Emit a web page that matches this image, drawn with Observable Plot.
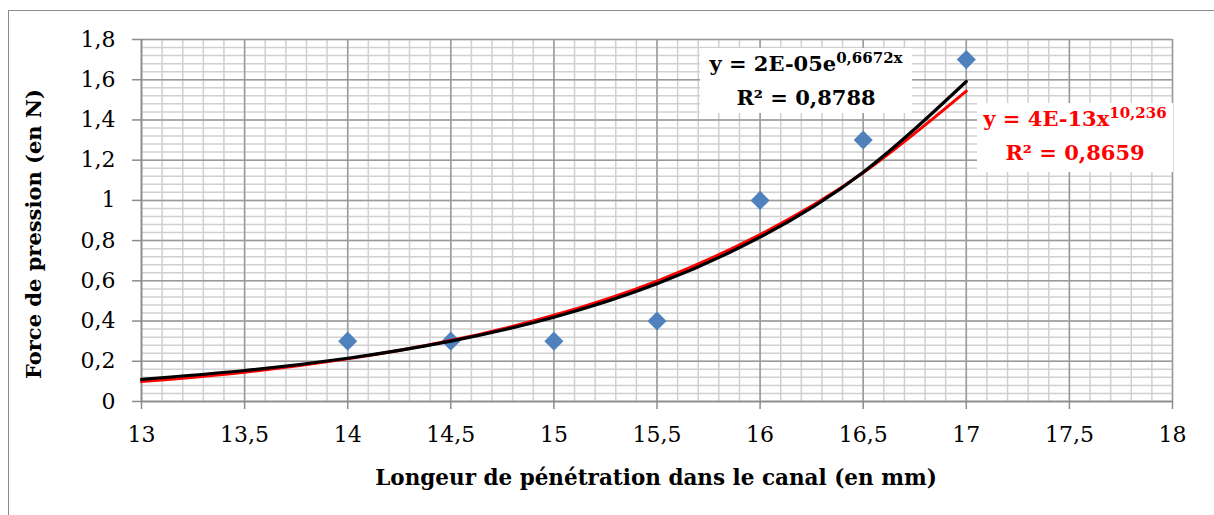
<!DOCTYPE html>
<html>
<head>
<meta charset="utf-8">
<script src="https://cdn.jsdelivr.net/npm/d3@7"></script>
<script src="https://cdn.jsdelivr.net/npm/@observablehq/plot@0.6"></script>
<style>
  html, body { margin: 0; padding: 0; background: #fff; }
  #wrap { position: relative; width: 1214px; height: 515px; overflow: hidden; background: #fff; }
  #frame { position: absolute; left: 8px; top: 10px; width: 1220px; height: 520px; border-left: 1.5px solid #8c8c8c; border-top: 1.5px solid #8c8c8c; box-sizing: border-box; }
  #chart { position: absolute; left: 0; top: 0; }
  .lbl { position: absolute; font-family: "DejaVu Serif", serif; font-weight: bold; white-space: nowrap; color: #000; }
  .eq { position: absolute; background: #fff; font-family: "DejaVu Serif", serif; font-weight: bold; text-align: center; white-space: nowrap; }
  .eq div { line-height: 31px; font-size: 21px; }
  .eq sup { font-size: 15px; vertical-align: 0; position: relative; top: -8px; }
</style>
</head>
<body>
<div id="wrap">
  <div id="frame"></div>
  <div id="chart"></div>
  <div class="lbl" id="xlabel" style="left:656px; top:477px; transform:translate(-50%,-50%); font-size:21.5px;"></div>
  <div class="lbl" id="ylabel" style="left:33px; top:234px; transform:translate(-50%,-50%) rotate(-90deg); font-size:21px;"></div>
  <div class="eq" id="eqBlack" style="left:700px; top:48px; width:212px; height:65px; color:#000;"></div>
  <div class="eq" id="eqRed" style="left:977px; top:103px; width:196px; height:69px; color:#ff0000;"></div>
</div>
<script>
// Data points
const lengths = [14, 14.5, 15, 15.5, 16, 16.5, 17];
const forces = [0.3, 0.3, 0.3, 0.4, 1.0, 1.3, 1.7];

// Trend curves (at x = 13 .. 17, step 0.5)
const trendX = [13, 13.5, 14, 14.5, 15, 15.5, 16, 16.5, 17];
const expTrend = [0.110, 0.154, 0.215, 0.300, 0.419, 0.585, 0.817, 1.140, 1.591];
const powTrend = [0.099, 0.146, 0.212, 0.303, 0.429, 0.599, 0.830, 1.137, 1.543];

// Tick labels
const xTicks = [13, 13.5, 14, 14.5, 15, 15.5, 16, 16.5, 17, 17.5, 18];
const yTicks = [0, 0.2, 0.4, 0.6, 0.8, 1, 1.2, 1.4, 1.6, 1.8];

// Texts
const xTitle = "Longeur de pénétration dans le canal (en mm)";
const yTitle = "Force de pression (en N)";
const expEq = ["y = 2E-05e", "0,6672x"];
const expR2 = "0,8788";
const powEq = ["y = 4E-13x", "10,236"];
const powR2 = "0,8659";

const xMinor = d3.range(130, 181).map(d => d / 10);
const yMinor = d3.range(0, 46).map(d => +(d * 0.04).toFixed(2));
const fmt = d => String(d).replace(".", ",");

const points = lengths.map((x, i) => ({x, y: forces[i]}));
const expData = trendX.map((x, i) => ({x, y: expTrend[i]}));
const powData = trendX.map((x, i) => ({x, y: powTrend[i]}));

const chart = Plot.plot({
  width: 1214,
  height: 515,
  marginLeft: 141,
  marginRight: 42,
  marginTop: 39,
  marginBottom: 114,
  style: {fontFamily: "DejaVu Serif, serif", fontSize: "22px", color: "#000", background: "transparent"},
  x: {domain: [13, 18]},
  y: {domain: [0, 1.8]},
  marks: [
    Plot.gridX(xMinor, {stroke: "#d0d0d0", strokeOpacity: 1, strokeWidth: 1.5}),
    Plot.gridY(yMinor, {stroke: "#d0d0d0", strokeOpacity: 1, strokeWidth: 1.5}),
    Plot.gridX(xTicks, {stroke: "#9a9a9a", strokeOpacity: 1, strokeWidth: 1.5}),
    Plot.gridY(yTicks, {stroke: "#9a9a9a", strokeOpacity: 1, strokeWidth: 1.5}),
    Plot.axisX(xTicks, {tickSize: 8, tickPadding: 17, tickFormat: fmt, stroke: "#8c8c8c", strokeWidth: 1.5, label: null}),
    Plot.axisY(yTicks, {tickSize: 9, tickPadding: 17, tickFormat: fmt, stroke: "#8c8c8c", strokeWidth: 1.5, label: null}),
    Plot.ruleX([13], {stroke: "#8c8c8c", strokeWidth: 1.5}),
    Plot.ruleY([0], {stroke: "#8c8c8c", strokeWidth: 1.5}),
    Plot.dot(points, {x: "x", y: "y", symbol: "diamond2", r: 8.6, fill: "#4f81bd", stroke: "none"}),
    Plot.line(powData, {x: "x", y: "y", stroke: "#ff0000", strokeWidth: 3, curve: "natural"}),
    Plot.line(expData, {x: "x", y: "y", stroke: "#000", strokeWidth: 3.2, curve: "natural"})
  ]
});
document.getElementById("chart").appendChild(chart);

document.getElementById("xlabel").textContent = xTitle;
document.getElementById("ylabel").textContent = yTitle;
document.getElementById("eqBlack").innerHTML =
  `<div>${expEq[0]}<sup>${expEq[1]}</sup></div><div>R² = ${expR2}</div>`;
document.getElementById("eqRed").innerHTML =
  `<div>${powEq[0]}<sup>${powEq[1]}</sup></div><div>R² = ${powR2}</div>`;
</script>
</body>
</html>
